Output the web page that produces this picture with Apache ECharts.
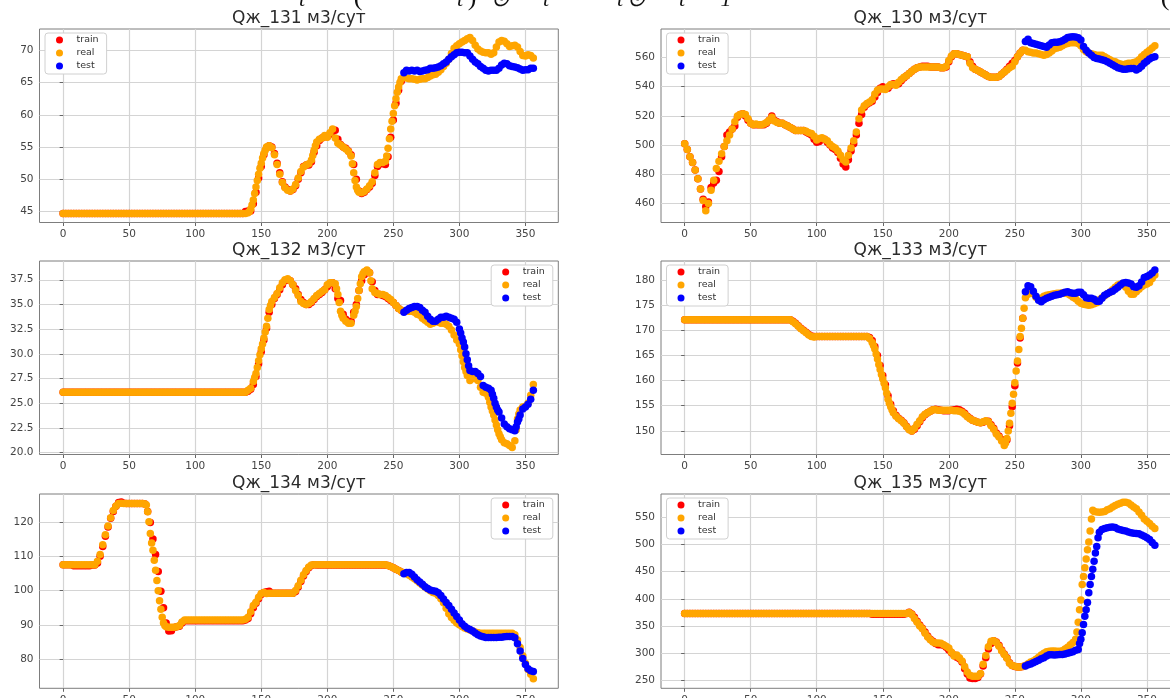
<!DOCTYPE html>
<html lang="ru">
<head>
<meta charset="UTF-8">
<title>Qж по скважинам</title>
<script src="https://cdn.jsdelivr.net/npm/echarts@6/dist/echarts.min.js"></script>
<style>
  html, body { margin: 0; padding: 0; background: #fff; }
  #chart { width: 1170px; height: 698px; }
</style>
</head>
<body>
<div id="chart"></div>
<script>
// values are read every 2 days; real and train start at day 0, test at day 258.
// the *Extra lists add [day, value] points read on odd days where the curve is steep.
const STEP = 2;
const TRAIN_START = 0;
const TEST_START = 258;

const titles = ['Qж_131 м3/сут', 'Qж_130 м3/сут', 'Qж_132 м3/сут',
                'Qж_133 м3/сут', 'Qж_134 м3/сут', 'Qж_135 м3/сут'];
const seriesNames = ['train', 'real', 'test'];
const xTicks = [0, 50, 100, 150, 200, 250, 300, 350];

const yTicks131 = [45, 50, 55, 60, 65, 70];
const yTicks130 = [460, 480, 500, 520, 540, 560];
const yTicks132 = [20, 22.5, 25, 27.5, 30, 32.5, 35, 37.5];
const yTicks133 = [150, 155, 160, 165, 170, 175, 180];
const yTicks134 = [80, 90, 100, 110, 120];
const yTicks135 = [250, 300, 350, 400, 450, 500, 550];

// ---- Qж_131 ----
const real131 = [
  44.7, 44.7, 44.7, 44.7, 44.7, 44.7, 44.7, 44.7, 44.7, 44.7,
  44.7, 44.7, 44.7, 44.7, 44.7, 44.7, 44.7, 44.7, 44.7, 44.7,
  44.7, 44.7, 44.7, 44.7, 44.7, 44.7, 44.7, 44.7, 44.7, 44.7,
  44.7, 44.7, 44.7, 44.7, 44.7, 44.7, 44.7, 44.7, 44.7, 44.7,
  44.7, 44.7, 44.7, 44.7, 44.7, 44.7, 44.7, 44.7, 44.7, 44.7,
  44.7, 44.7, 44.7, 44.7, 44.7, 44.7, 44.7, 44.7, 44.7, 44.7,
  44.7, 44.7, 44.7, 44.7, 44.7, 44.7, 44.7, 44.7, 44.7, 44.7,
  44.8, 45.4, 46.8, 48.8, 50.8, 52.5, 54, 55, 55.2, 54.9,
  53.8, 52.3, 50.8, 49.5, 48.7, 48.3, 48.2, 48.5, 49.2, 50.2,
  51.2, 51.9, 52.2, 52.4, 53, 54.5, 55.8, 56.2, 56.4, 56.8,
  56.5, 57.2, 57.8, 56.4, 55.6, 55.3, 55, 54.7, 54.3, 53.6,
  51, 48.8, 48, 47.9, 48.1, 48.5, 49, 49.6, 51, 52.3,
  52.6, 52.6, 52.8, 54.8, 57.8, 60.2, 62.5, 64.3, 65.6, 65.8,
  65.7, 65.6, 65.6, 65.5, 65.4, 65.5, 65.6, 65.6, 65.8, 66,
  66.2, 66.3, 66.6, 67, 67.5, 68, 68.6, 69.5, 70.3, 70.7,
  71, 71.3, 71.5, 71.8, 72, 71.5, 70.8, 70.2, 69.9, 69.7,
  69.6, 69.6, 69.4, 69.6, 70.5, 71.3, 71.5, 71.4, 71, 70.6,
  70.7, 70.8, 70.5, 69.8, 69.2, 69.1, 69.3, 69.2, 68.8
];
const real131Extra = [
  [141, 45], [143, 46], [145, 47.8], [147, 49.8], [149, 51.7], [151, 53.3], [153, 54.5], [155, 55.1],
  [189, 53.7], [191, 55.2], [219, 52.4], [221, 49.8], [223, 48.3],
  [245, 53.6], [247, 56.3], [249, 59], [251, 61.4], [253, 63.5], [255, 65]
];
const train131 = [
  44.7, 44.7, 44.7, 44.7, 44.7, 44.7, 44.7, 44.7, 44.7, 44.7,
  44.7, 44.7, 44.7, 44.7, 44.7, 44.7, 44.7, 44.7, 44.7, 44.7,
  44.7, 44.7, 44.7, 44.7, 44.7, 44.7, 44.7, 44.7, 44.7, 44.7,
  44.7, 44.7, 44.7, 44.7, 44.7, 44.7, 44.7, 44.7, 44.7, 44.7,
  44.7, 44.7, 44.7, 44.7, 44.7, 44.7, 44.7, 44.7, 44.7, 44.7,
  44.7, 44.7, 44.7, 44.7, 44.7, 44.7, 44.7, 44.7, 44.7, 44.7,
  44.7, 44.7, 44.7, 44.7, 44.7, 44.7, 44.7, 44.7, 44.7, 45,
  45.1, 45.1, 46.2, 48, 50.2, 52, 53.8, 54.9, 55.2, 55,
  54, 52.5, 51, 49.6, 48.8, 48.4, 48.2, 48.4, 49, 50,
  51, 52, 52.2, 52.2, 52.7, 54.2, 55.2, 56, 56.4, 56.6,
  56.6, 57, 57.4, 57.6, 56.2, 55.4, 55, 54.8, 54.4, 53.8,
  52.3, 50, 48.2, 47.8, 48, 48.4, 48.8, 49.4, 50.6, 52,
  52.4, 52.4, 52.3, 53.5, 56.5, 59.2, 61.8, 63.8, 65.2
];
const test131 = [
  66.5, 66.9, 66.8, 66.9, 66.8, 66.9, 66.7, 66.8, 66.9, 67,
  67.2, 67.2, 67.3, 67.4, 67.6, 67.9, 68.2, 68.6, 69, 69.3,
  69.6, 69.7, 69.7, 69.6, 69.6, 69.1, 68.6, 68.2, 67.9, 67.5,
  67.2, 66.9, 66.8, 66.9, 66.9, 66.9, 67.2, 67.7, 68, 67.9,
  67.6, 67.5, 67.4, 67.3, 67.1, 66.9, 67, 67, 67.2, 67.2
];

// ---- Qж_130 ----
const real130 = [
  501, 497, 492, 488, 483, 477, 470, 462, 455, 460,
  469, 476, 484, 489, 494, 499, 503, 507, 511, 516,
  520, 521, 521.5, 521, 518, 515, 514, 514.5, 514, 514,
  514.5, 515.5, 517, 519, 516.5, 515.5, 515, 515, 514, 513,
  512, 511, 510, 510, 510, 510, 509.5, 508.5, 508, 506,
  503.5, 504.5, 505, 504, 503, 500.5, 499, 498, 496, 493,
  490, 488.5, 493, 498, 503, 509, 518, 524, 527, 528.5,
  529.5, 531, 535, 537.5, 538.5, 538.5, 538, 540, 541.5, 541.5,
  541, 543, 545, 546.5, 547.5, 549, 550.5, 552, 553, 553.5,
  553.5, 553.5, 553.5, 553.5, 553.5, 553.5, 553.5, 553, 553, 554,
  558, 561, 562.5, 562.5, 562, 561.5, 561, 560.5, 556, 553,
  552, 551, 550, 549, 548, 547, 546.5, 546.5, 546.5, 547,
  548.5, 550, 551.5, 553, 554, 557, 560.5, 563, 565, 565,
  564, 563.5, 563, 563, 562.5, 562, 561.5, 562, 563, 564.5,
  566, 566.5, 567, 568, 569, 569.5, 570, 570, 570, 569.5,
  568, 565.5, 564, 563, 562.5, 562, 561.5, 561.5, 561.5, 560.5,
  559.5, 558.5, 557.5, 557, 556, 555.5, 555, 555.5, 556, 556,
  556.5, 557, 558.5, 560.5, 562, 563.5, 565, 566.5, 568
];
const train130 = [
  501, 497, 492, 488, 483, 477, 470, 463, 458, 461,
  471, 474, 476, 482, 492, 499, 507, 509, 511, 513,
  519, 521, 521.5, 520, 517, 515, 514, 514, 514, 514,
  514, 515, 517, 520, 517, 516, 515, 515, 514, 513,
  512, 511, 510, 510, 510, 510, 509, 508, 507, 504,
  502, 502.5, 504, 504, 502, 500, 498, 497, 495, 491,
  487, 485, 490, 496, 501, 507, 515, 521, 526, 528,
  529, 530, 533, 536, 539, 540, 539, 539, 541, 542,
  541.5, 542, 544, 546, 547.5, 549, 550.5, 552, 553, 553.5,
  554, 554, 554, 553.5, 553.5, 553.5, 553.5, 553, 553, 553.5,
  557, 560.5, 562.5, 562.5, 562, 561.5, 561, 560.5, 557, 554,
  552, 551, 550, 549, 548, 547, 546.5, 546.5, 546.5, 547,
  548.5, 550, 552, 554, 556, 558, 560.5, 563, 565
];
const test130 = [
  571, 572.5, 570, 569.5, 569, 568.5, 568, 567.5, 567, 568.5,
  570, 570.5, 570.5, 570.7, 571.5, 572.5, 573.7, 574, 574.2, 574,
  573.5, 572, 567.5, 565, 563, 561.5, 560, 559.3, 559, 558.5,
  558, 557, 556, 555, 554, 553, 552.5, 552, 552, 552.3,
  552.5, 552.5, 551.5, 552.5, 554, 556, 557.5, 559, 560, 560.5
];

// ---- Qж_132 ----
const real132 = [
  26.1, 26.1, 26.1, 26.1, 26.1, 26.1, 26.1, 26.1, 26.1, 26.1,
  26.1, 26.1, 26.1, 26.1, 26.1, 26.1, 26.1, 26.1, 26.1, 26.1,
  26.1, 26.1, 26.1, 26.1, 26.1, 26.1, 26.1, 26.1, 26.1, 26.1,
  26.1, 26.1, 26.1, 26.1, 26.1, 26.1, 26.1, 26.1, 26.1, 26.1,
  26.1, 26.1, 26.1, 26.1, 26.1, 26.1, 26.1, 26.1, 26.1, 26.1,
  26.1, 26.1, 26.1, 26.1, 26.1, 26.1, 26.1, 26.1, 26.1, 26.1,
  26.1, 26.1, 26.1, 26.1, 26.1, 26.1, 26.1, 26.1, 26.1, 26.1,
  26.3, 26.5, 27.2, 28, 29.3, 30.5, 31.6, 32.8, 34.5, 35.3,
  35.7, 36.1, 36.7, 37.2, 37.5, 37.6, 37.4, 37, 36.4, 35.9,
  35.3, 35.1, 35, 35.1, 35.3, 35.6, 35.9, 36.1, 36.3, 36.5,
  37, 37.2, 37.2, 37.1, 36, 34.3, 33.6, 33.3, 33.1, 33.1,
  33.9, 34.8, 36.4, 37.8, 38.3, 38.5, 38.2, 36.6, 36.2, 36.1,
  36, 36, 35.9, 35.7, 35.5, 35.2, 34.9, 34.6, 34.4, 34.3,
  34.3, 34.3, 34.3, 34.2, 34, 33.9, 33.6, 33.4, 33.2, 33,
  33.1, 33.3, 33.2, 33.1, 33.1, 33, 32.8, 32.4, 31.9, 31.4,
  31, 29.8, 28.6, 27.8, 27.3, 27.5, 27.5, 27.3, 26.6, 26.1,
  26, 25.6, 24.6, 23.8, 22.8, 21.9, 21.3, 21, 20.9, 20.7,
  20.5, 21.2, 23.4, 24.3, 24.6, 24.7, 25, 25.8, 26.9
];
const real132Extra = [
  [145, 27.6], [147, 28.6], [149, 29.9], [151, 31], [153, 32.2], [155, 33.6], [157, 34.9],
  [207, 36.6], [209, 35.2], [211, 33.9], [221, 34.3], [223, 35.6], [225, 37.1], [227, 38.1],
  [233, 37.4], [301, 30.4], [303, 29.2], [305, 28.2], [323, 25.1], [325, 24.2], [327, 23.3],
  [329, 22.3], [331, 21.6], [343, 22.3], [345, 23.9]
];
const train132 = [
  26.1, 26.1, 26.1, 26.1, 26.1, 26.1, 26.1, 26.1, 26.1, 26.1,
  26.1, 26.1, 26.1, 26.1, 26.1, 26.1, 26.1, 26.1, 26.1, 26.1,
  26.1, 26.1, 26.1, 26.1, 26.1, 26.1, 26.1, 26.1, 26.1, 26.1,
  26.1, 26.1, 26.1, 26.1, 26.1, 26.1, 26.1, 26.1, 26.1, 26.1,
  26.1, 26.1, 26.1, 26.1, 26.1, 26.1, 26.1, 26.1, 26.1, 26.1,
  26.1, 26.1, 26.1, 26.1, 26.1, 26.1, 26.1, 26.1, 26.1, 26.1,
  26.1, 26.1, 26.1, 26.1, 26.1, 26.1, 26.1, 26.1, 26.1, 26.1,
  26.2, 26.4, 26.9, 27.7, 29, 30.2, 31.4, 32.6, 34.2, 35,
  35.6, 36, 36.5, 37, 37.4, 37.5, 37.4, 37, 36.6, 36,
  35.5, 35.2, 35, 35, 35.2, 35.5, 35.8, 36, 36.2, 36.5,
  36.8, 37.1, 37.2, 36.6, 35.6, 35.4, 34, 33.5, 33.2, 33.3,
  34.2, 35, 36.4, 37.4, 38, 38.4, 38.2, 37.3, 36.4, 36,
  36, 35.9, 35.8, 35.6, 35.4, 35.2, 34.9, 34.6, 34.4
];
const test132 = [
  34.2, 34.4, 34.6, 34.7, 34.8, 34.8, 34.7, 34.4, 34.2, 33.8,
  33.5, 33.3, 33.3, 33.5, 33.7, 33.7, 33.8, 33.7, 33.6, 33.5,
  33.2, 32.5, 31.6, 30.7, 29.4, 28.3, 28.2, 28.2, 28, 27.7,
  26.8, 26.6, 26.5, 26.3, 25.5, 24.6, 24.1, 23.5, 22.9, 22.6,
  22.4, 22.3, 22.2, 23.1, 23.8, 24.4, 24.6, 24.9, 25.4, 26.3
];
const test132Extra = [
  [301, 32.1], [303, 31.2], [305, 30], [307, 28.8], [325, 25.9], [327, 25], [329, 24.3],
  [343, 22.6], [345, 23.4]
];

// ---- Qж_133 ----
const real133 = [
  172.1, 172.1, 172.1, 172.1, 172.1, 172.1, 172.1, 172.1, 172.1, 172.1,
  172.1, 172.1, 172.1, 172.1, 172.1, 172.1, 172.1, 172.1, 172.1, 172.1,
  172.1, 172.1, 172.1, 172.1, 172.1, 172.1, 172.1, 172.1, 172.1, 172.1,
  172.1, 172.1, 172.1, 172.1, 172.1, 172.1, 172.1, 172.1, 172.1, 172.1,
  172.1, 171.7, 171.3, 170.8, 170.3, 169.9, 169.5, 169.1, 168.8, 168.7,
  168.8, 168.8, 168.8, 168.8, 168.8, 168.8, 168.8, 168.8, 168.8, 168.8,
  168.8, 168.8, 168.8, 168.8, 168.8, 168.8, 168.8, 168.8, 168.8, 168.8,
  168.4, 167.6, 166.3, 164.3, 162.2, 160.3, 158.6, 156.3, 154.8, 153.6,
  152.9, 152.4, 152, 151.5, 150.8, 150.2, 150, 150.5, 151.3, 152,
  152.8, 153.3, 153.6, 153.9, 154.2, 154.2, 154.1, 154.1, 154.1, 154.1,
  154.1, 154.1, 154, 154, 153.9, 153.7, 153.3, 152.8, 152.4, 152.1,
  151.9, 151.7, 151.6, 151.8, 152, 151.8, 151, 150.3, 149.4, 148.8,
  148, 147.1, 148.5, 151.5, 155.5, 159.6, 163.9, 168.8, 172.4, 176.5,
  177.2, 177.8, 177.3, 176.6, 176.2, 176.4, 176.8, 177, 177.1, 177.2,
  177.3, 177.4, 177.4, 177.5, 177.4, 177.3, 177, 176.6, 176.3, 175.8,
  175.4, 175.2, 175.1, 175, 175.1, 175.3, 175.5, 176.1, 176.5, 176.9,
  177.3, 177.6, 178.1, 178.6, 179, 179.2, 179.3, 178.6, 177.8, 177.2,
  177.2, 177.7, 178.2, 178.7, 179, 179.2, 179.5, 180.3, 181
];
const real133Extra = [
  [143, 167], [145, 165.3], [147, 163.2], [149, 161.2], [151, 159.5], [153, 157.5], [155, 155.5], [157, 154.2],
  [243, 147.6], [245, 150], [247, 153.5], [249, 157.3], [251, 161.9], [253, 166.2], [255, 170.4], [257, 174.4]
];
const train133 = [
  172.1, 172.1, 172.1, 172.1, 172.1, 172.1, 172.1, 172.1, 172.1, 172.1,
  172.1, 172.1, 172.1, 172.1, 172.1, 172.1, 172.1, 172.1, 172.1, 172.1,
  172.1, 172.1, 172.1, 172.1, 172.1, 172.1, 172.1, 172.1, 172.1, 172.1,
  172.1, 172.1, 172.1, 172.1, 172.1, 172.1, 172.1, 172.1, 172.1, 172.1,
  172.1, 171.8, 171.4, 170.9, 170.4, 170, 169.6, 169.2, 168.9, 168.8,
  168.8, 168.8, 168.8, 168.8, 168.8, 168.8, 168.8, 168.8, 168.8, 168.8,
  168.8, 168.8, 168.8, 168.8, 168.8, 168.8, 168.8, 168.8, 168.8, 168.8,
  168.6, 168, 166.8, 165, 163, 161, 159.2, 157, 155.3, 154,
  153.1, 152.5, 152.1, 151.6, 150.9, 150.3, 150, 150.3, 151, 151.8,
  152.6, 153.2, 153.6, 153.9, 154.2, 154.3, 154.2, 154.1, 154, 154,
  154, 154.1, 154.2, 154.3, 154.2, 153.9, 153.5, 152.9, 152.5, 152.1,
  151.9, 151.7, 151.6, 151.7, 151.9, 151.9, 151.2, 150.5, 149.6, 149,
  148.3, 147.8, 148.2, 151, 154.8, 159, 163.5, 168.5, 172.4
];
const test133 = [
  177.7, 178.9, 178.7, 177.8, 176.8, 176, 175.7, 176.1, 176.4, 176.6,
  176.8, 177, 177.1, 177.2, 177.4, 177.6, 177.7, 177.5, 177.4, 177.4,
  177.6, 177.6, 177.1, 176.5, 176.4, 176.4, 176.2, 175.8, 175.8, 176.4,
  177, 177.3, 177.6, 177.8, 178.2, 178.6, 179, 179.4, 179.5, 179.4,
  179.2, 178.7, 178.6, 178.9, 179.6, 180.5, 180.7, 181, 181.4, 182
];

// ---- Qж_134 ----
const real134 = [
  107.5, 107.5, 107.5, 107.5, 107.5, 107.5, 107.5, 107.5, 107.5, 107.5,
  107.5, 107.5, 107.5, 108.5, 110.5, 113.3, 116.2, 118.8, 121.2, 123.3,
  124.6, 125.3, 125.4, 125.3, 125.3, 125.3, 125.3, 125.3, 125.3, 125.3,
  125.3, 125.2, 122.9, 116.6, 111.7, 105.9, 99.9, 94.5, 90.5, 89.4,
  89.3, 89.3, 89.3, 89.4, 89.8, 90.8, 91.4, 91.4, 91.4, 91.4,
  91.4, 91.4, 91.4, 91.4, 91.4, 91.4, 91.4, 91.4, 91.4, 91.4,
  91.4, 91.4, 91.4, 91.4, 91.4, 91.4, 91.4, 91.4, 91.4, 91.6,
  92.2, 93.8, 95.6, 96.6, 98, 99.1, 99.4, 99.1, 99.2, 99.2,
  99.2, 99.2, 99.2, 99.2, 99.2, 99.2, 99.2, 99.2, 100, 101.4,
  103, 104.6, 105.8, 106.8, 107.4, 107.5, 107.5, 107.5, 107.5, 107.5,
  107.5, 107.5, 107.5, 107.5, 107.5, 107.5, 107.5, 107.5, 107.5, 107.5,
  107.5, 107.5, 107.5, 107.5, 107.5, 107.5, 107.5, 107.5, 107.5, 107.5,
  107.5, 107.5, 107.5, 107.3, 107, 106.6, 106.2, 105.8, 105.4, 105.1,
  104.9, 104.4, 103.9, 103.4, 102.8, 102.2, 101.6, 101, 100.4, 99.9,
  99.4, 99.2, 98.5, 97.6, 96.4, 94.8, 93.2, 92.1, 91.3, 90.5,
  90, 89.5, 89.1, 88.8, 88.5, 88.2, 87.9, 87.7, 87.5, 87.5,
  87.5, 87.5, 87.5, 87.5, 87.5, 87.5, 87.5, 87.5, 87.5, 87.5,
  87.5, 87.1, 85.6, 83.4, 81, 78.8, 77, 75.6, 74.3
];
const real134Extra = [
  [63, 124.9], [65, 120], [67, 113.8], [69, 108.8], [71, 102.9], [73, 97], [75, 92.2], [77, 89.8]
];
const train134 = [
  107.5, 107.5, 107.5, 107.5, 107.2, 107.2, 107.2, 107.2, 107.2, 107.2,
  107.2, 107.4, 107.4, 108, 110, 112.8, 115.8, 118.5, 121, 123,
  124.5, 125.6, 125.8, 125.4, 125.3, 125.3, 125.3, 125.3, 125.3, 125.3,
  125.3, 125.2, 123, 119.8, 115, 110.5, 105.5, 99.8, 95, 90.5,
  88.2, 88.3, 89.2, 89.4, 89.6, 90.5, 91.2, 91.2, 91.2, 91.2,
  91.2, 91.2, 91.2, 91.2, 91.2, 91.2, 91.2, 91.2, 91.2, 91.2,
  91.2, 91.2, 91.2, 91.2, 91.2, 91.2, 91.2, 91.2, 91.2, 91.4,
  91.8, 93.2, 95, 96.3, 97.6, 98.8, 99.4, 99.6, 99.8, 99.2,
  99.2, 99.2, 99.2, 99.2, 99.2, 99.2, 99.2, 99.2, 99.7, 101,
  102.6, 104.2, 105.5, 106.6, 107.3, 107.5, 107.4, 107.4, 107.4, 107.4,
  107.4, 107.4, 107.4, 107.4, 107.4, 107.4, 107.4, 107.4, 107.4, 107.4,
  107.4, 107.4, 107.4, 107.4, 107.4, 107.4, 107.4, 107.4, 107.4, 107.4,
  107.4, 107.4, 107.4, 107.3, 107, 106.6, 106.2, 105.8, 105.4
];
const test134 = [
  104.9, 105.2, 105.2, 104.7, 103.9, 103.1, 102.5, 101.8, 101.1, 100.6,
  100.1, 99.9, 99.8, 99.3, 98.5, 97.5, 96.5, 95.6, 94.5, 93.4,
  92.4, 91.4, 90.3, 89.6, 89, 88.6, 88.2, 87.6, 87.1, 86.7,
  86.5, 86.3, 86.3, 86.3, 86.3, 86.3, 86.4, 86.4, 86.5, 86.6,
  86.6, 86.6, 86.2, 84.5, 82.4, 80.2, 78.4, 77.2, 76.6, 76.4
];

// ---- Qж_135 ----
const real135 = [
  373, 373, 373, 373, 373, 373, 373, 373, 373, 373,
  373, 373, 373, 373, 373, 373, 373, 373, 373, 373,
  373, 373, 373, 373, 373, 373, 373, 373, 373, 373,
  373, 373, 373, 373, 373, 373, 373, 373, 373, 373,
  373, 373, 373, 373, 373, 373, 373, 373, 373, 373,
  373, 373, 373, 373, 373, 373, 373, 373, 373, 373,
  373, 373, 373, 373, 373, 373, 373, 373, 373, 373,
  373, 373, 373, 373, 373, 373, 373, 373, 373, 373,
  373, 373, 373, 373, 373, 375, 371, 364, 357, 350,
  345, 337, 330, 325, 321, 319, 319, 318.5, 316, 313,
  310, 302, 295, 297, 292, 286, 276, 266, 260, 258,
  258, 258, 263, 280, 296, 312, 322, 323, 320, 313,
  305, 298, 291, 282, 278, 276.5, 275, 275, 276, 278,
  281, 284, 286, 289, 293, 297, 300, 303, 304, 304.3,
  304.3, 304, 304, 305, 308, 311, 316, 320, 326, 357,
  398, 441, 473, 504, 546, 560, 559, 558.5, 559, 560,
  563, 565, 568, 571, 573, 575, 577, 577, 575.5, 572,
  568, 565, 559, 553, 546, 542, 538, 533, 529
];
const real135Extra = [
  [297, 339], [299, 380], [301, 426], [303, 457], [305, 490], [307, 524], [309, 562]
];
const train135 = [
  373, 373, 373, 373, 373, 373, 373, 373, 373, 373,
  373, 373, 373, 373, 373, 373, 373, 373, 373, 373,
  373, 373, 373, 373, 373, 373, 373, 373, 373, 373,
  373, 373, 373, 373, 373, 373, 373, 373, 373, 373,
  373, 373, 373, 373, 373, 373, 373, 373, 373, 373,
  373, 373, 373, 373, 373, 373, 373, 373, 373, 373,
  373, 373, 373, 373, 373, 373, 373, 373, 373, 373,
  373, 371.5, 371.5, 371.5, 371.5, 371.5, 371.5, 371.5, 371.5, 371.5,
  371.5, 371.5, 371.5, 371.5, 373, 375.5, 372, 366, 359, 352,
  346, 339, 332, 326, 322, 318, 316, 316, 315, 311,
  306, 301, 297, 293, 290, 284, 272, 262, 255, 254,
  254, 256, 262, 277, 292, 308, 318, 323, 321, 315,
  306, 299, 292, 283, 278, 276, 275, 275, 276
];
const test135 = [
  277, 279, 280.5, 283, 285, 287.5, 290, 292, 295, 297.5,
  297.5, 297, 297.5, 298, 298, 299, 300, 301.5, 303, 305.5,
  307, 326, 353, 380, 411, 441, 469, 496, 522, 527,
  529, 530, 531, 531.5, 530.5, 528, 526.5, 525, 524, 522.5,
  521, 520, 519.5, 519, 517, 514.5, 512, 508.5, 503, 498
];
const test135Extra = [
  [299, 318], [301, 338], [303, 368], [305, 393], [307, 426], [309, 454], [311, 484], [313, 512]
];

// bits of the formula line that is cut off at the top of the screenshot
const formulaBits = [
  ['t', 302], ['(', 358], ['t', 460], [')', 472], ['⊙', 500], ['t', 546],
  ['t', 620], ['⊙', 636], ['t', 682], ['1', 726], ['(', 1165]
];

// ---- layout ----
const FONT = 'DejaVu Sans';
const colLeft = [39.5, 661];
const gridW = 518.8;
const rowTop = [29, 261, 494];
const rowH = [193.5, 193.5, 194.3];
const colors = { train: '#ff0000', real: '#ffa500', test: '#0000ff' };

const panels = [
  { real: real131, realExtra: real131Extra, train: train131, test: test131,
    yTicks: yTicks131, yMin: 43.3, yMax: 73.3, row: 0, col: 0, legend: 'left', dec: 0 },
  { real: real130, train: train130, test: test130,
    yTicks: yTicks130, yMin: 447, yMax: 579.5, row: 0, col: 1, legend: 'left', dec: 0 },
  { real: real132, realExtra: real132Extra, train: train132, test: test132, testExtra: test132Extra,
    yTicks: yTicks132, yMin: 19.8, yMax: 39.4, row: 1, col: 0, legend: 'right', dec: 1 },
  { real: real133, realExtra: real133Extra, train: train133, test: test133,
    yTicks: yTicks133, yMin: 145.3, yMax: 183.8, row: 1, col: 1, legend: 'left', dec: 0 },
  { real: real134, realExtra: real134Extra, train: train134, test: test134,
    yTicks: yTicks134, yMin: 71.5, yMax: 128.1, row: 2, col: 0, legend: 'right', dec: 0 },
  { real: real135, realExtra: real135Extra, train: train135, test: test135, testExtra: test135Extra,
    yTicks: yTicks135, yMin: 236, yMax: 592, row: 2, col: 1, legend: 'left', dec: 0 }
];

function toPoints(values, start, extra) {
  return values.map((v, i) => [start + STEP * i, v]).concat(extra || []);
}

const axisText = { fontFamily: FONT, fontSize: 10.5, color: '#444' };
const gridLine = { show: true, lineStyle: { color: '#d4d4d4', width: 1.2 } };
const tickStyle = { lineStyle: { color: '#666', width: 1 } };

const grid = [], xAxis = [], yAxis = [], series = [], legend = [], title = [];

panels.forEach((p, i) => {
  const left = colLeft[p.col];
  const top = rowTop[p.row];
  grid.push({
    left: left, top: top, width: gridW, height: rowH[p.row],
    outerBoundsMode: 'none', containLabel: false,
    show: true, borderColor: '#7d7d7d', borderWidth: 1, backgroundColor: '#fff'
  });
  xAxis.push({
    type: 'value', gridIndex: i, min: -17.9, max: 374.9,
    axisLine: { show: false },
    axisTick: Object.assign({ show: true, length: 3.5, customValues: xTicks }, tickStyle),
    axisLabel: Object.assign({ margin: 6, customValues: xTicks }, axisText),
    splitLine: gridLine
  });
  yAxis.push({
    type: 'value', gridIndex: i, min: p.yMin, max: p.yMax,
    axisLine: { show: false },
    axisTick: Object.assign({ show: true, length: 3.5, customValues: p.yTicks }, tickStyle),
    axisLabel: Object.assign({
      margin: 6, customValues: p.yTicks,
      formatter: v => p.dec ? v.toFixed(p.dec) : String(v)
    }, axisText),
    splitLine: gridLine
  });
  title.push({
    text: titles[i], left: left + gridW / 2, top: [10, 242, 475][p.row],
    textAlign: 'center', padding: 0,
    textStyle: { fontFamily: FONT, fontSize: 17, fontWeight: 'normal', color: '#2b2b2b' }
  });
  const lg = {
    data: seriesNames, orient: 'vertical', top: top + 4,
    icon: 'circle', itemWidth: 24, itemHeight: 7, itemGap: 3,
    padding: [2, 8, 3, 11],
    backgroundColor: '#fff', borderColor: '#d0d0d0', borderWidth: 1, borderRadius: 3,
    textStyle: { fontFamily: FONT, fontSize: 9.5, color: '#333', lineHeight: 9 },
    selectedMode: false
  };
  if (p.legend === 'left') lg.left = left + 5.5;
  else lg.right = 1170 - (left + gridW - 5.5);
  legend.push(lg);

  const parts = [
    ['train', toPoints(p.train, TRAIN_START)],
    ['real', toPoints(p.real, TRAIN_START, p.realExtra)],
    ['test', toPoints(p.test, TEST_START, p.testExtra)]
  ];
  parts.forEach(([name, pts]) => {
    series.push({
      name: name, type: 'scatter', xAxisIndex: i, yAxisIndex: i,
      data: pts, symbolSize: 7.5,
      itemStyle: { color: colors[name], opacity: 1 },
      silent: true, emphasis: { disabled: true }
    });
  });
});

const graphic = formulaBits.map(([ch, x]) => ({
  type: 'text', x: x, y: ch === '(' || ch === ')' ? -2 : 0,
  silent: true,
  style: {
    text: ch, fill: '#111',
    font: (ch === '(' || ch === ')' ? '26px' : 'italic 22px') + ' "Liberation Serif"',
    align: 'center', verticalAlign: 'middle'
  }
}));

const chart = echarts.init(document.getElementById('chart'), null, { renderer: 'canvas' });
chart.setOption({
  animation: false,
  backgroundColor: '#fff',
  title: title,
  legend: legend,
  grid: grid,
  xAxis: xAxis,
  yAxis: yAxis,
  series: series,
  graphic: graphic
});
</script>
</body>
</html>
